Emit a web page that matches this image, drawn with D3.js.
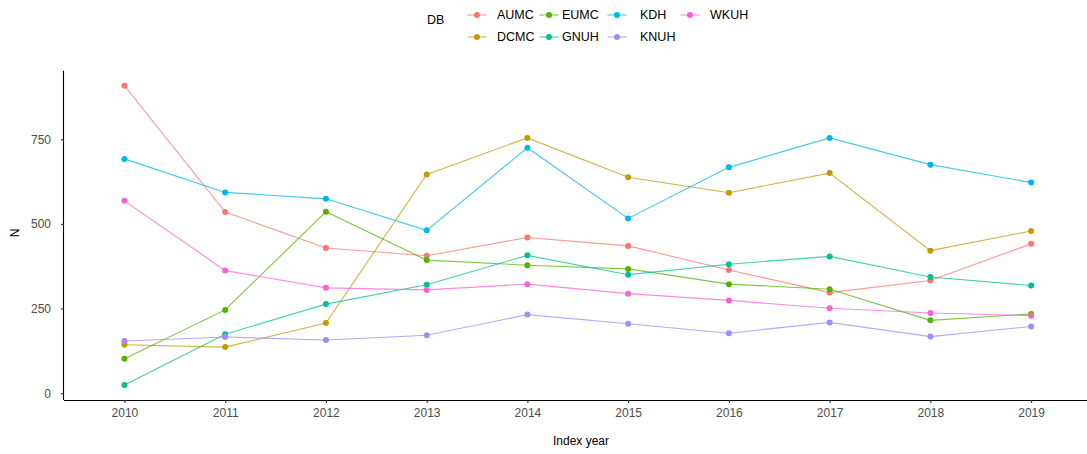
<!DOCTYPE html>
<html>
<head>
<meta charset="utf-8">
<script src="https://cdn.jsdelivr.net/npm/d3@7"></script>
<style>
  body { margin: 0; background: #fff; }
  svg { display: block; font-family: "Liberation Sans", Arial, sans-serif; }
</style>
</head>
<body>
<svg id="chart"></svg>
<script>
const width = 1087;
const height = 454;

const years = ["2010", "2011", "2012", "2013", "2014", "2015", "2016", "2017", "2018", "2019"];
const dbs = ["AUMC", "DCMC", "EUMC", "GNUH", "KDH", "KNUH", "WKUH"];
const colors = ["#F8766D", "#C49A00", "#53B400", "#00C094", "#00B6EB", "#A58AFF", "#FB61D7"];

const aumc = [908, 535, 429, 406, 460, 435, 364, 297, 333, 441];
const dcmc = [143, 136, 207, 646, 754, 638, 592, 650, 421, 479];
const eumc = [102, 246, 536, 393, 378, 367, 322, 307, 215, 234];
const gnuh = [24, 174, 263, 320, 407, 350, 381, 404, 343, 318];
const kdh  = [692, 593, 574, 481, 725, 516, 667, 754, 675, 622];
const knuh = [154, 166, 157, 171, 232, 205, 177, 209, 167, 197];
const wkuh = [568, 362, 311, 305, 322, 294, 274, 251, 237, 229];

const yTicks = [0, 250, 500, 750];

const seriesValues = [aumc, dcmc, eumc, gnuh, kdh, knuh, wkuh];
const series = dbs.map((db, i) => ({
  db: db,
  color: colors[i],
  values: years.map((y, j) => ({ year: y, n: seriesValues[i][j] }))
}));

const svg = d3.select("#chart").attr("width", width).attr("height", height);

// panel: discrete x with 0.6 expansion, continuous y with 5% expansion
const panelLeft = 64, panelBottom = 400, panelTop = 70.8;
const step = 100.74;
const x = d3.scalePoint()
  .domain(years)
  .range([panelLeft + 0.6 * step, panelLeft + 0.6 * step + 9 * step]);

const all = seriesValues.flat();
const lo = d3.min(all), hi = d3.max(all);
const pad = (hi - lo) * 0.05;
const y = d3.scaleLinear()
  .domain([lo - pad, hi + pad])
  .range([panelBottom, panelTop]);

// axes
const xAxis = svg.append("g")
  .attr("transform", `translate(0,${panelBottom})`)
  .call(d3.axisBottom(x).tickSize(3).tickPadding(5));
xAxis.select(".domain").attr("d", `M${panelLeft},0.5H${panelLeft + 10.2 * step}`);

const yAxis = svg.append("g")
  .attr("transform", `translate(${panelLeft},0)`)
  .call(d3.axisLeft(y).tickValues(yTicks).tickSize(3).tickPadding(10));
yAxis.select(".domain").attr("d", `M-0.5,${panelBottom}V${panelTop}`);

svg.selectAll(".domain").attr("stroke", "#000").attr("stroke-width", 1.1);
svg.selectAll(".tick line").attr("stroke", "#333").attr("stroke-width", 1.1);
svg.selectAll(".tick text")
  .attr("fill", "#4D4D4D")
  .attr("font-size", 12)
  .attr("font-family", "Liberation Sans, Arial, sans-serif");

// axis titles
svg.append("text")
  .attr("x", 581)
  .attr("y", 445)
  .attr("text-anchor", "middle")
  .attr("font-size", 12)
  .attr("fill", "#000")
  .text("Index year");

svg.append("text")
  .attr("transform", "translate(19,233) rotate(-90)")
  .attr("text-anchor", "middle")
  .attr("font-size", 12)
  .attr("fill", "#000")
  .text("N");

// lines first, then points
const line = d3.line()
  .x(d => x(d.year))
  .y(d => y(d.n));

svg.append("g")
  .selectAll("path")
  .data(series)
  .join("path")
  .attr("d", d => line(d.values))
  .attr("fill", "none")
  .attr("stroke", d => d.color)
  .attr("stroke-width", 1.1)
  .attr("stroke-opacity", 0.75);

svg.append("g")
  .selectAll("g")
  .data(series)
  .join("g")
  .attr("fill", d => d.color)
  .selectAll("circle")
  .data(d => d.values)
  .join("circle")
  .attr("cx", d => x(d.year))
  .attr("cy", d => y(d.n))
  .attr("r", 3);

// legend (top, two rows, filled by column)
svg.append("text")
  .attr("x", 427)
  .attr("y", 24)
  .attr("font-size", 12.5)
  .attr("fill", "#000")
  .text("DB");

const keyX = [477, 549, 617, 690];
const labelX = [497, 562, 640, 710];
const rowY = [15, 37];

const legend = svg.append("g")
  .selectAll("g")
  .data(series)
  .join("g")
  .attr("transform", (d, i) => `translate(${keyX[Math.floor(i / 2)]},${rowY[i % 2]})`);

legend.append("line")
  .attr("x1", -9.5).attr("x2", 9.5)
  .attr("stroke", d => d.color)
  .attr("stroke-width", 1.1)
  .attr("stroke-opacity", 0.75);

legend.append("circle")
  .attr("r", 3)
  .attr("fill", d => d.color);

legend.append("text")
  .attr("x", (d, i) => labelX[Math.floor(i / 2)] - keyX[Math.floor(i / 2)])
  .attr("dy", "0.35em")
  .attr("font-size", 12.5)
  .attr("fill", "#000")
  .text(d => d.db);
</script>
</body>
</html>
